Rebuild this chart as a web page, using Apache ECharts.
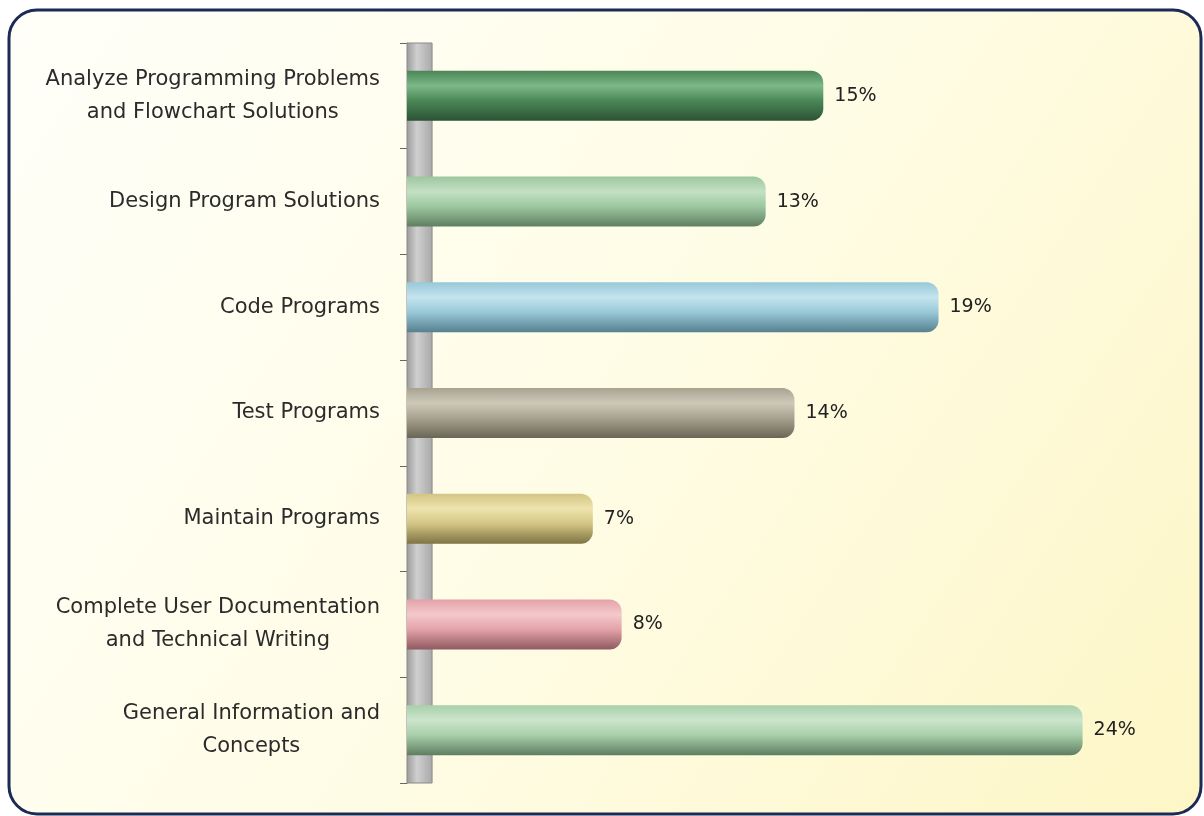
<!DOCTYPE html>
<html><head><meta charset="utf-8">
<script src="https://cdn.jsdelivr.net/npm/echarts@6/dist/echarts.min.js"></script>
<style>html,body{margin:0;padding:0;background:#fff}#c{width:1204px;height:816px}</style>
</head><body><div id="c"></div>
<script>
const categories = [
  "Analyze Programming Problems\nand Flowchart Solutions",
  "Design Program Solutions",
  "Code Programs",
  "Test Programs",
  "Maintain Programs",
  "Complete User Documentation\nand Technical Writing",
  "General Information and\nConcepts"
];
const values = [15, 13, 19, 14, 7, 8, 24];
const barColors = [
  ["#4a8757", "#7db887", "#2c5234"],
  ["#9cc79f", "#c4e0c4", "#5f7f60"],
  ["#98c8d8", "#c4e4ee", "#56808f"],
  ["#a8a290", "#cdc9b9", "#6a6656"],
  ["#d2c584", "#eee3ad", "#7f7444"],
  ["#e3a2a8", "#f4c9cc", "#8f5a60"],
  ["#a8cfaa", "#cce5cc", "#5f7e61"]
];

function grad(c) {
  return new echarts.graphic.LinearGradient(0, 0, 0, 1, [
    {offset: 0, color: c[0]},
    {offset: 0.3, color: c[1]},
    {offset: 0.6, color: c[0]},
    {offset: 1, color: c[2]}
  ]);
}

const chart = echarts.init(document.getElementById('c'), null, {renderer: 'canvas'});
chart.setOption({
  animation: false,
  graphic: [{
    type: 'rect', z: -10,
    shape: {x: 9, y: 10, width: 1192, height: 804, r: 28},
    style: {
      fill: new echarts.graphic.LinearGradient(0, 0, 1, 1, [
        {offset: 0, color: '#fffff9'},
        {offset: 0.5, color: '#fffce6'},
        {offset: 1, color: '#fdf6c6'}
      ]),
      stroke: '#1c2b55', lineWidth: 3
    }
  }],
  grid: {left: 407, right: 35, top: 43, bottom: 33},
  xAxis: {type: 'value', min: 0.55, max: 27, show: false},
  yAxis: {
    type: 'category', data: categories, inverse: true,
    axisLine: {show: true, lineStyle: {color: '#777', width: 1}},
    axisTick: {show: true, length: 7, lineStyle: {color: '#666'}},
    axisLabel: {
      margin: 27, align: 'right',
      fontFamily: 'DejaVu Sans', fontSize: 21, color: '#2b2b2b', lineHeight: 33,
      formatter: v => v.split('\n').map(s => '{c|' + s + '}').join('\n'),
      rich: {c: {align: 'center', fontFamily: 'DejaVu Sans', fontSize: 21, color: '#2b2b2b', lineHeight: 33}}
    }
  },
  series: [{
    type: 'line', data: [], z: 1,
    markArea: {
      silent: true,
      itemStyle: {
        color: new echarts.graphic.LinearGradient(0, 0, 1, 0, [
          {offset: 0, color: '#9a9a9a'},
          {offset: 0.4, color: '#cfcfcf'},
          {offset: 1, color: '#a8a8a8'}
        ]),
        borderColor: '#8a8a8a', borderWidth: 1
      },
      data: [[{xAxis: 0.55}, {xAxis: 1.42}]]
    }
  }, {
    type: 'bar', z: 3, barWidth: 50,
    data: values.map((v, i) => ({value: v, itemStyle: {color: grad(barColors[i])}})),
    itemStyle: {borderRadius: [0, 12, 12, 0]},
    label: {
      show: true, position: 'right', distance: 11, formatter: '{c}%',
      fontFamily: 'DejaVu Sans', fontSize: 19, color: '#222'
    }
  }]
});
</script></body></html>
